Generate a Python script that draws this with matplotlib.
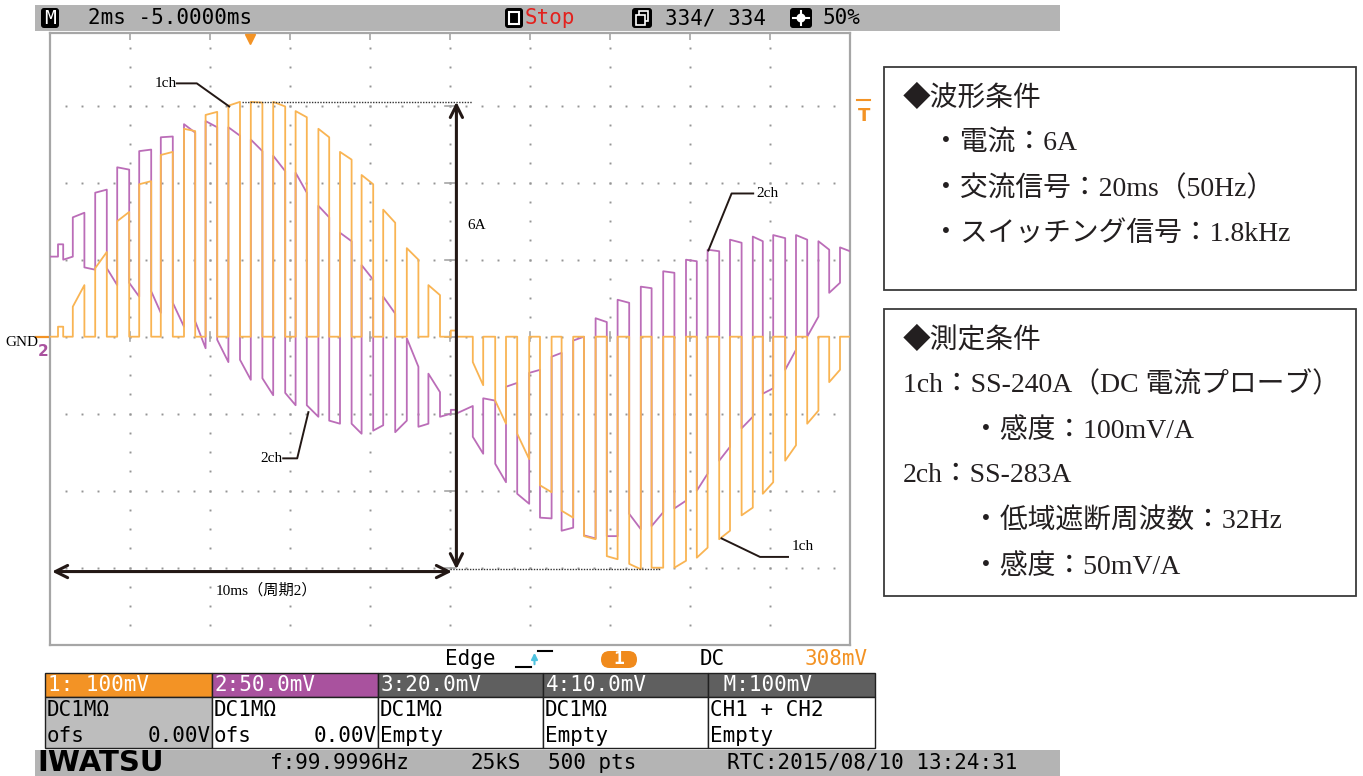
import matplotlib
matplotlib.use('Agg')
import matplotlib.pyplot as plt
from matplotlib.patches import Rectangle, FancyBboxPatch, Circle

# --- waveform data (time in ms, level in div; 1 div = 1 A on both channels) ---
# each switching pulse: on time, off time
t_on = [0.20, 0.57, 1.13, 1.68, 2.23, 2.77, 3.35, 3.89, 4.46, 5.02, 5.58, 6.14,
        6.71, 7.25, 7.79, 8.33, 8.92, 9.46, 10.02, 10.57, 11.13, 11.68, 12.25,
        12.79, 13.35, 13.92, 14.48, 15.04, 15.61, 16.17, 16.73, 17.29, 17.82,
        18.38, 18.93, 19.48]
t_off = [0.33, 0.86, 1.42, 1.98, 2.53, 3.07, 3.63, 4.18, 4.75, 5.31, 5.88, 6.42,
         6.98, 7.54, 8.08, 8.63, 9.21, 9.75, 10.15, 10.83, 11.40, 11.98, 12.54,
         13.08, 13.64, 14.19, 14.77, 15.33, 15.90, 16.44, 17.00, 17.57, 18.08,
         18.65, 19.21, 19.75]

# 1ch (DC probe): pulse level at start / end of each pulse
ch1_a = [0.13, 0.39, 0.89, 1.50, 1.98, 2.36, 2.70, 2.88, 3.00, 3.05, 3.05, 2.93,
         2.70, 2.40, 2.10, 1.65, 1.15, 0.67, 0.08, -0.33, -0.83, -1.26, -1.93,
         -2.26, -2.59, -2.85, -2.95, -3.00, -3.00, -2.87, -2.63, -2.32, -2.04,
         -1.61, -1.13, -0.59]
ch1_b = [0.13, 0.67, 1.10, 1.62, 2.02, 2.40, 2.67, 2.92, 3.05, 3.04, 2.99, 2.85,
         2.59, 2.30, 1.98, 1.48, 1.00, 0.54, 0.08, -0.63, -1.13, -1.59, -2.02,
         -2.35, -2.63, -2.89, -3.02, -3.00, -2.91, -2.74, -2.52, -2.22, -1.89,
         -1.41, -0.96, -0.43]

# 2ch (AC probe, 32 Hz cut-off): level while pulse is on
ch2_on_a = [1.20, 1.55, 1.87, 2.20, 2.41, 2.59, 2.76, 2.80, 2.72, 2.56, 2.35, 2.13,
            1.70, 1.35, 0.93, 0.52, -0.02, -0.48, -0.95, -1.30, -1.65, -2.04,
            -2.35, -2.52, -2.58, -2.59, -2.30, -2.46, -2.23, -2.00, -1.61, -1.19,
            -0.74, -0.43, 0.00, 0.57]
ch2_on_b = [1.20, 1.61, 1.91, 2.17, 2.43, 2.60, 2.65, 2.72, 2.61, 2.41, 2.15, 1.87,
            1.55, 1.24, 0.74, 0.30, -0.39, -0.72, -0.95, -1.52, -1.89, -2.17,
            -2.36, -2.48, -2.62, -2.59, -2.50, -2.28, -2.13, -1.78, -1.43, -1.04,
            -0.67, -0.17, 0.26, 0.70]
# 2ch level in the gap after each pulse (start / end of the gap)
ch2_lead = [1.04, 1.04]
ch2_off_a = [1.00, 0.90, 0.89, 0.70, 0.59, 0.44, 0.20, -0.04, -0.30, -0.54, -0.73,
             -0.89, -1.09, -1.13, -1.22, -1.24, -1.17, -1.04, -1.00, -0.80, -0.65,
             -0.47, -0.26, -0.05, 0.24, 0.48, 0.65, 0.85, 1.00, 1.13, 1.26, 1.30,
             1.32, 1.32, 1.24, 1.16]
ch2_off_b = [1.04, 0.87, 0.67, 0.52, 0.31, 0.13, -0.15, -0.33, -0.56, -0.76, -0.89,
             -1.04, -1.13, -1.26, -1.15, -1.09, -1.13, -1.00, -0.90, -0.83, -0.60,
             -0.43, -0.21, 0.00, 0.19, 0.44, 0.63, 0.83, 0.98, 1.11, 1.22, 1.24,
             1.28, 1.26, 1.13, 1.11]

trig_level = 3.08  # 308mV at 100mV/A

# step traces
tt, v1, v2 = [0.0], [0.0], [ch2_lead[0]]
prev_off = ch2_lead[1]
for i in range(len(t_on)):
    tt += [t_on[i], t_on[i], t_off[i], t_off[i]]
    v1 += [0.0, ch1_a[i], ch1_b[i], 0.0]
    v2 += [prev_off, ch2_on_a[i], ch2_on_b[i], ch2_off_a[i]]
    prev_off = ch2_off_b[i]
tt.append(20.0)
v1.append(0.0)
v2.append(prev_off)

W, H = 1363, 776
fig = plt.figure(figsize=(W / 100, H / 100), dpi=100)

# pixel-space layer for the instrument frame and the notes
ui = fig.add_axes([0, 0, 1, 1], zorder=0)
ui.set_xlim(0, W)
ui.set_ylim(H, 0)
ui.axis('off')

MONO = 'DejaVu Sans Mono'
SERIF_JP = ['Liberation Serif', 'Noto Sans CJK JP']
ORANGE = '#f39325'
PURPLE = '#a9529e'
BAR = '#b4b4b4'


def rect(x0, y0, x1, y1, fc, ec='none', lw=0, z=1):
    ui.add_patch(Rectangle((x0, y0), x1 - x0, y1 - y0, facecolor=fc,
                           edgecolor=ec, lw=lw, zorder=z))


def mono(x, y, s, color='black', ha='left', size=15, weight='normal'):
    ui.text(x, y, s, family=MONO, fontsize=size, color=color, ha=ha,
            va='center', weight=weight, zorder=5)


# top status bar
rect(35, 5, 1060, 31, BAR)
ui.add_patch(FancyBboxPatch((41, 8), 18, 20, boxstyle='round,pad=0,rounding_size=3',
                            fc='black', ec='none', zorder=3))
mono(50, 18.5, 'M', color='white', ha='center', size=14)
mono(88, 18, '2ms -5.0000ms')
ui.add_patch(FancyBboxPatch((505, 8), 18, 20, boxstyle='round,pad=0,rounding_size=3',
                            fc='black', ec='none', zorder=3))
rect(509, 12, 519, 24, 'none', ec='white', lw=1.5, z=4)
mono(525, 18, 'Stop', color='#e3211d')
ui.add_patch(FancyBboxPatch((632, 8), 20, 20, boxstyle='round,pad=0,rounding_size=3',
                            fc='black', ec='none', zorder=3))
rect(639, 11, 648, 21, 'none', ec='white', lw=1.2, z=4)
rect(636, 15, 645, 25, 'black', ec='white', lw=1.2, z=4)
mono(665, 18, '334/ 334')
ui.add_patch(FancyBboxPatch((790, 8), 22, 20, boxstyle='round,pad=0,rounding_size=3',
                            fc='black', ec='none', zorder=3))
ui.add_patch(Circle((801, 18), 4.5, fc='white', ec='none', zorder=4))
for dx, dy in [(-8, 0), (8, 0), (0, -7), (0, 7)]:
    ui.plot([801 + dx * 0.6, 801 + dx], [18 + dy * 0.6, 18 + dy], color='white',
            lw=1.5, zorder=4)
mono(823, 18, '50%')

# trigger line under the screen
mono(445, 659, 'Edge')
ui.plot([516, 531], [667, 667], color='black', lw=1.5, zorder=4)
ui.plot([538, 552], [651, 651], color='black', lw=1.5, zorder=4)
ui.annotate('', xy=(534.5, 650), xytext=(534.5, 667),
            arrowprops=dict(arrowstyle='-|>', color='#4fc3e0', lw=1.5,
                            mutation_scale=9), zorder=4)
ui.add_patch(FancyBboxPatch((601, 651), 36, 17, boxstyle='round,pad=0,rounding_size=8.5',
                            fc='#f08a1c', ec='none', zorder=3))
mono(619, 659.5, '1', color='white', ha='center', size=13, weight='bold')
mono(700, 659, 'DC')
mono(868, 659, '308mV', color=ORANGE, ha='right')

# channel table
cols = [45, 212, 378, 543, 708, 875]
head_fc = [ORANGE, PURPLE, '#5f5f5f', '#5f5f5f', '#5f5f5f']
head_txt = ['1: 100mV', '2:50.0mV', '3:20.0mV', '4:10.0mV', ' M:100mV']
row2 = ['DC1MΩ', 'DC1MΩ', 'DC1MΩ', 'DC1MΩ', 'CH1 + CH2']
row3 = ['ofs', 'ofs', 'Empty', 'Empty', 'Empty']
for k in range(5):
    x0, x1 = cols[k], cols[k + 1]
    rect(x0, 673, x1, 697, head_fc[k], ec='#202020', lw=1, z=2)
    rect(x0, 697, x1, 748, '#bdbdbd' if k == 0 else 'white', ec='#202020', lw=1, z=2)
    mono(x0 + 3, 685, head_txt[k], color='white')
    mono(x0 + 2, 710, row2[k])
    mono(x0 + 2, 736, row3[k])
    if k < 2:
        mono(x1 - 1, 736, '0.00V', ha='right')

# bottom status bar
rect(35, 750, 1060, 776, BAR)
ui.text(37, 763, 'IWATSU', family='DejaVu Sans', fontsize=21, weight='heavy',
        va='center', ha='left', zorder=5)
mono(270, 763, 'f:99.9996Hz')
mono(470, 763, '25kS')
mono(548, 763, '500 pts')
mono(727, 763, 'RTC:2015/08/10 13:24:31')

# condition notes
for top, bottom in [(67, 290), (309, 596)]:
    rect(884, top, 1356, bottom, 'none', ec='#3a3a3a', lw=1.3, z=2)
notes = [(903, 98, '◆波形条件'),
         (932, 143, '・電流：6A'),
         (932, 189, '・交流信号：20ms（50Hz）'),
         (932, 234, '・スイッチング信号：1.8kHz'),
         (903, 340, '◆測定条件'),
         (903, 385, '1ch：SS-240A（DC 電流プローブ）'),
         (972, 431, '・感度：100mV/A'),
         (903, 476, '2ch：SS-283A'),
         (972, 522, '・低域遮断周波数：32Hz'),
         (972, 567, '・感度：50mV/A')]
for x, y, s in notes:
    ui.text(x, y, s, family=SERIF_JP, fontsize=20, color='#231f20',
            ha='left', va='center', zorder=5)

# ground marker left of the screen
ui.text(38, 343, 'GND', family='Liberation Serif', fontsize=11, ha='right',
        va='center', zorder=5)
ui.plot([36, 49], [337, 337], color=ORANGE, lw=1.6, zorder=4)
ui.text(43, 352, '2', family='DejaVu Sans', fontsize=11, weight='bold',
        color=PURPLE, ha='center', va='center', zorder=4)

# --- scope screen ---
GND_PX, DIV_PX = 336.7, 77.0
top_px = GND_PX - 3.95 * DIV_PX
bot_px = GND_PX + 4 * DIV_PX
ax = fig.add_axes([50 / W, (H - bot_px) / H, 800 / W, (bot_px - top_px) / H], zorder=2)
ax.set_xlim(0, 20)
ax.set_ylim(-4, 3.95)
ax.set_facecolor('white')
for sp in ax.spines.values():
    sp.set_color('#a6a6a6')
    sp.set_linewidth(1.6)
ax.set_xticks(range(2, 20, 2))
ax.set_yticks([])
ax.tick_params(axis='x', which='both', direction='in', length=5, width=1.2,
               color='#a6a6a6', top=True, bottom=False, labelbottom=False)

# graticule dots
gx, gy = [], []
for row in range(-3, 4):
    for k in range(1, 50):
        gx.append(k * 0.4)
        gy.append(row)
for col in range(2, 20, 2):
    for k in range(-15, 16):
        gx.append(col)
        gy.append(k * 0.25)
ax.plot(gx, gy, ls='none', marker='s', ms=1.4, color='#959595', mew=0)
for row in range(-3, 4):
    ax.plot([9.87, 10.13], [row, row], color='#a6a6a6', lw=1.2)
for col in range(2, 20, 2):
    ax.plot([col, col], [-0.06, 0.06], color='#a6a6a6', lw=1.2)

# traces
ax.plot(tt, v2, color='#bb6db8', lw=1.3, zorder=3)
ax.plot(tt, v1, color='#f9b453', lw=1.3, zorder=4)

# trigger markers
ax.plot([5.0], [3.86], marker='v', ms=7, color=ORANGE, clip_on=False, zorder=6)
ax.plot([20.17, 20.5], [trig_level, trig_level], color=ORANGE, lw=1.5,
        clip_on=False, zorder=6)
ax.text(20.34, trig_level - 0.22, 'T', family='DejaVu Sans', fontsize=13,
        weight='bold', color=ORANGE, ha='center', va='center', clip_on=False)

# peak-to-peak and period markers
p_max = max(max(ch1_a), max(ch1_b))
p_min = min(min(ch1_a), min(ch1_b))
ax.plot([4.8, 10.55], [p_max, p_max], color='#333333', lw=1, ls=(0, (1, 1)), zorder=5)
ax.plot([10.0, 15.25], [p_min, p_min], color='#333333', lw=1, ls=(0, (1, 1)), zorder=5)
ax.annotate('', xy=(10.16, p_max), xytext=(10.16, p_min),
            arrowprops=dict(arrowstyle='<->', color='#231815', lw=2.2,
                            mutation_scale=22, shrinkA=0, shrinkB=0), zorder=6)
ax.annotate('', xy=(0.05, -3.05), xytext=(10.05, -3.05),
            arrowprops=dict(arrowstyle='<->', color='#231815', lw=2.2,
                            mutation_scale=22, shrinkA=0, shrinkB=0), zorder=6)
ax.text(10.43, 1.45, '6A', family='Liberation Serif', fontsize=11, va='center')
ax.text(5.4, -3.29, '10ms（周期2）', family=SERIF_JP, fontsize=11, ha='center',
        va='center')

# channel call-outs
callouts = [('1ch', (3.17, 3.29), [(3.17, 3.29), (3.67, 3.29), (4.48, 2.99)]),
            ('2ch', (5.82, -1.58), [(5.83, -1.58), (6.18, -1.58), (6.46, -0.98)]),
            ('2ch', (17.65, 1.86), [(17.58, 1.86), (17.04, 1.86), (16.46, 1.12)]),
            ('1ch', (18.55, -2.73), [(18.45, -2.86), (17.75, -2.86), (16.79, -2.62)])]
for label, (lx, ly), pts in callouts:
    xs, ys = zip(*pts)
    ax.plot(xs, ys, color='#231815', lw=1.4, zorder=6)
    ax.text(lx, ly, label, family='Liberation Serif', fontsize=11,
            ha='left' if lx > pts[0][0] else 'right', va='center', zorder=6)

fig.savefig('out.png', dpi=100)
